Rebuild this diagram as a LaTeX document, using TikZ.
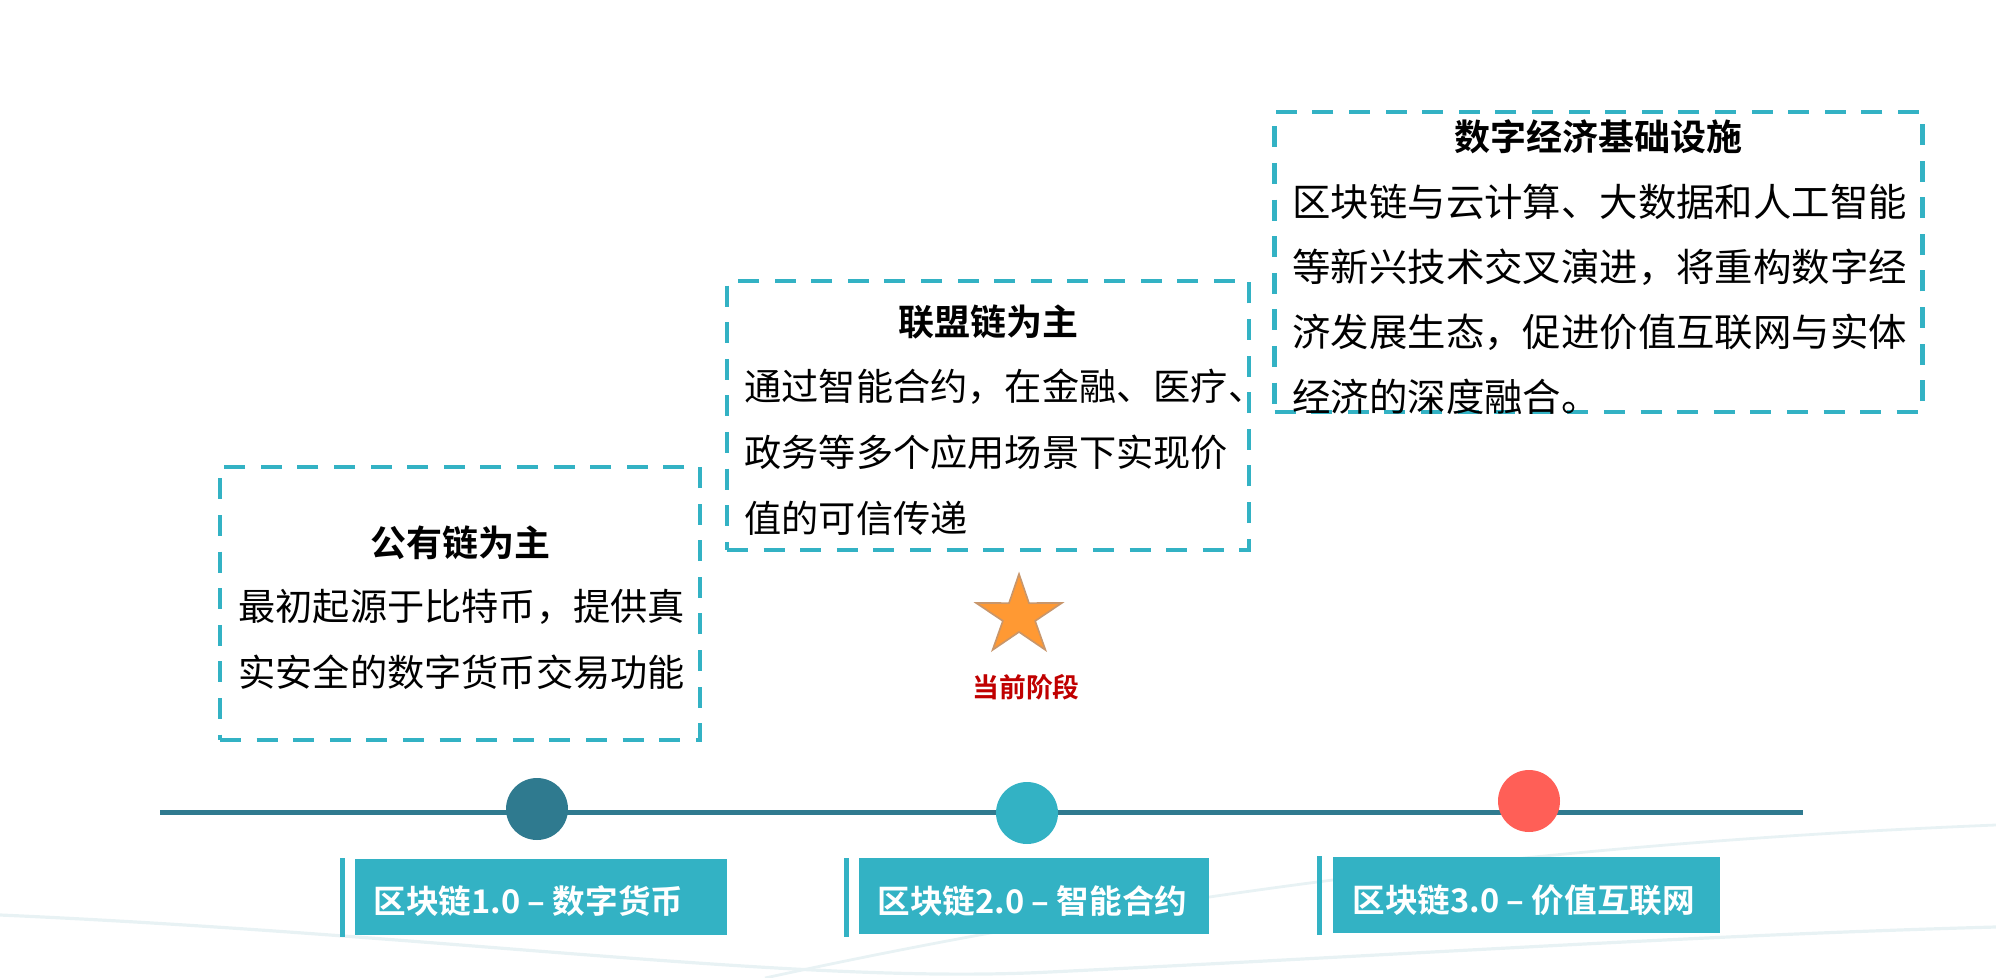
\documentclass[tikz,border=0pt]{standalone}
\usepackage{fontspec}
\usetikzlibrary{calc}
\setmainfont{Noto Sans CJK SC}[BoldFont={Noto Sans CJK SC Bold}]
\definecolor{tealdark}{HTML}{2F7A8F}
\definecolor{cyanc}{HTML}{33B2C4}
\definecolor{redc}{HTML}{FF5F57}
\definecolor{staro}{HTML}{FF9933}
\definecolor{stare}{HTML}{C8966B}
\definecolor{darkred}{HTML}{C00000}
\definecolor{swoosh}{HTML}{E8F2F4}
\begin{document}
\begin{tikzpicture}[x=0.5pt,y=-0.5pt,
  dbox/.style={draw=cyanc, line width=2.3pt, dash pattern=on 10.5pt off 7.8pt, inner sep=0, rectangle},
  titletext/.style={font=\bfseries\fontsize{18}{22}\selectfont, inner sep=0},
  bodytext/.style={font=\fontsize{18.6}{22}\selectfont, inner sep=0, anchor=west},
  labelbox/.style={fill=cyanc, inner sep=0, minimum height=38pt},
  labelbar/.style={fill=cyanc, inner sep=0, minimum width=2.5pt, minimum height=39.5pt},
  labeltext/.style={font=\bfseries\fontsize{16.3}{18}\selectfont, text=white, inner sep=0, anchor=west},
  dot/.style={circle, inner sep=0, minimum size=31pt}]
\useasboundingbox (0,0) rectangle (1996,978);
% faint background swooshes
\draw[swoosh, line width=1.6pt] (0,915) .. controls (450,935) and (800,985) .. (1050,972) .. controls (1400,955) and (1700,935) .. (1996,927);
\draw[swoosh, line width=1.4pt] (765,978) .. controls (1100,905) and (1500,845) .. (1996,825);
% dashed boxes
\node[dbox, minimum width=240pt, minimum height=136.5pt] (b1) at (460,603.5) {};
\node[dbox, minimum width=261pt, minimum height=134.5pt] (b2) at (988,415.5) {};
\node[dbox, minimum width=324pt, minimum height=150pt] (b3) at (1598.5,262) {};
% box 1 text
\node[titletext] (t1) at (460,543) {公有链为主};
\node[bodytext] (b1l1) at (238,607) {最初起源于比特币，提供真};
\node[bodytext] (b1l2) at (238,672) {实安全的数字货币交易功能};
% box 2 text
\node[titletext] (t2) at (988,322) {联盟链为主};
\node[bodytext] (b2l1) at (744,387) {通过智能合约，在金融、医疗、};
\node[bodytext] (b2l2) at (744,452) {政务等多个应用场景下实现价};
\node[bodytext] (b2l3) at (744,518) {值的可信传递};
% box 3 text
\node[titletext] (t3) at (1598,137) {数字经济基础设施};
\begin{scope}[bodytext/.append style={font=\fontsize{19.2}{22}\selectfont}]
\node[bodytext] (b3l1) at (1292,202) {区块链与云计算、大数据和人工智能};
\node[bodytext] (b3l2) at (1292,267) {等新兴技术交叉演进，将重构数字经};
\node[bodytext] (b3l3) at (1292,332) {济发展生态，促进价值互联网与实体};
\node[bodytext] (b3l4) at (1292,397) {经济的深度融合。};
\end{scope}
% star and current stage
\coordinate (star) at (1019,616);
\fill[staro, draw=stare, line width=0.8pt]
  ($(star)+(-90:45 and 42)$) -- ($(star)+(-54:17 and 16)$) --
  ($(star)+(-18:45 and 42)$) -- ($(star)+(18:17 and 16)$) --
  ($(star)+(54:45 and 42)$) -- ($(star)+(90:17 and 16)$) --
  ($(star)+(126:45 and 42)$) -- ($(star)+(162:17 and 16)$) --
  ($(star)+(198:45 and 42)$) -- ($(star)+(234:17 and 16)$) -- cycle;
\node[font=\bfseries\fontsize{13.4}{16}\selectfont, text=darkred, inner sep=0] (cur) at (1026,687) {当前阶段};
% timeline
\coordinate (tls) at (160,812);
\coordinate (tle) at (1803,812);
\draw[tealdark, line width=2.5pt] (tls) -- (tle);
\node[dot, fill=tealdark] (c1) at (537,809) {};
\node[dot, fill=cyanc] (c2) at (1027,813) {};
\node[dot, fill=redc] (c3) at (1529,801) {};
% labels
\node[labelbar] (lb1) at (342.5,897.5) {};
\node[labelbox, minimum width=186pt] (l1) at (541,897) {};
\node[labeltext] (lt1) at (373,901) {区块链1.0 – 数字货币};
\node[labelbar] (lb2) at (846.5,897.5) {};
\node[labelbox, minimum width=175pt] (l2) at (1034,896) {};
\node[labeltext] (lt2) at (877,901) {区块链2.0 – 智能合约};
\node[labelbar] (lb3) at (1319.5,895.5) {};
\node[labelbox, minimum width=193.5pt] (l3) at (1526.5,895) {};
\node[labeltext] (lt3) at (1352,900) {区块链3.0 – 价值互联网};
\end{tikzpicture}
\end{document}
